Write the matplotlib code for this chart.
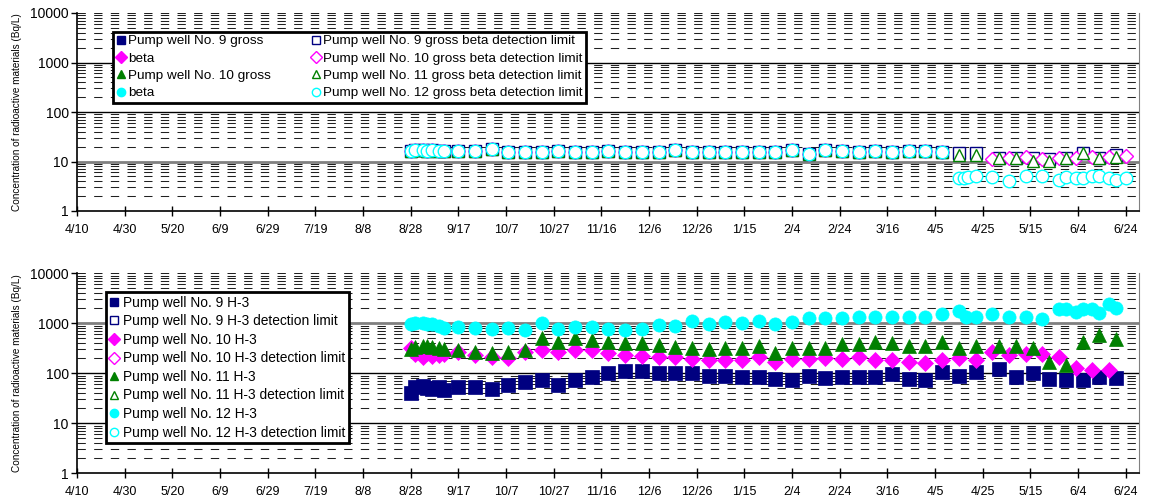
import matplotlib
matplotlib.use("Agg")
import matplotlib.pyplot as plt
import matplotlib.dates as mdates
import matplotlib.ticker as mticker
import pandas as pd

plt.rcParams['font.family'] = ['Liberation Sans', 'DejaVu Sans']

# sampling days, written as m/d (Aug-Dec = 2013, Jan-Jun = 2014)
early_dates = ["8/28", "8/30", "9/2", "9/4", "9/6", "9/9", "9/11"]
weekly_dates = ["9/17", "9/24", "10/1", "10/8", "10/15", "10/22", "10/29", "11/5", "11/12", "11/19",
                "11/26", "12/3", "12/10", "12/17", "12/24", "12/31", "1/7", "1/14", "1/21", "1/28",
                "2/4", "2/11", "2/18", "2/25", "3/4", "3/11", "3/18", "3/25", "4/1", "4/8"]

# --- upper chart: gross beta detection limits (Bq/L) ---
beta_dl_early = [16.5, 16.8, 17.0, 16.5, 16.8, 16.3, 16.5]
beta_dl_weekly = [16.3, 16.3, 17.9, 15.9, 15.9, 15.9, 16.5, 15.9, 15.3, 16.3,
                  15.9, 15.3, 15.3, 16.9, 15.3, 15.3, 15.3, 15.3, 15.3, 15.3,
                  16.9, 14.2, 16.9, 16.5, 15.3, 16.5, 15.3, 16.5, 16.5, 15.3]
no9_beta_dl_late_dates = ["4/15", "4/22", "5/2", "5/9", "5/16", "5/23", "5/30", "6/6", "6/13", "6/20"]
no9_beta_dl_late = [14.6, 14.6, 12.0, 11.8, 11.6, 11.4, 11.6, 14.8, 12.0, 13.5]
no10_beta_dl_late_dates = ["4/29", "5/6", "5/13", "5/20", "5/27", "6/3", "6/10", "6/17", "6/24"]
no10_beta_dl_late = [11.1, 11.6, 12.2, 11.1, 11.6, 11.6, 12.2, 12.5, 12.9]
no11_beta_dl_late_dates = ["4/15", "4/22", "5/2", "5/9", "5/16", "5/23", "5/30", "6/6", "6/13", "6/20"]
no11_beta_dl_late = [13.5, 13.5, 11.6, 11.6, 10.4, 10.4, 11.6, 14.6, 11.6, 12.5]
no12_beta_dl_late_dates = ["4/15", "4/17", "4/19", "4/22", "4/29", "5/6", "5/13", "5/20", "5/27",
                           "5/30", "6/3", "6/6", "6/10", "6/13", "6/17", "6/20", "6/24"]
no12_beta_dl_late = [4.6, 4.6, 4.8, 5.0, 4.8, 4.1, 5.0, 5.0, 4.2, 4.8, 4.6, 4.6, 5.0, 5.0, 4.6, 4.2, 4.6]

# --- lower chart: H-3 (Bq/L) ---
no9_h3_early = [41, 52, 55, 50, 48, 52, 47]
no9_h3_weekly = [52, 54, 48, 58, 68, 74, 58, 74, 86, 103,
                 111, 110, 103, 103, 100, 88, 87, 84, 86, 78,
                 74, 89, 79, 83, 86, 85, 95, 76, 74, 108]
no10_h3_early = [320, 240, 215, 250, 225, 235, 240]
no10_h3_weekly = [271, 232, 209, 200, 271, 293, 271, 293, 293, 259,
                  232, 222, 215, 209, 193, 182, 186, 186, 209, 171,
                  195, 192, 200, 195, 209, 186, 182, 171, 158, 185]
no11_h3_early = [300, 340, 350, 345, 330, 320, 310]
no11_h3_weekly = [293, 271, 251, 271, 293, 501, 430, 501, 464, 430,
                  398, 398, 370, 341, 316, 302, 316, 326, 352, 251,
                  316, 316, 316, 385, 385, 430, 410, 352, 352, 430]
no12_h3_early = [980, 1000, 1000, 990, 970, 900, 800]
no12_h3_weekly = [857, 794, 770, 820, 750, 1000, 780, 857, 857, 780,
                  750, 770, 940, 900, 1100, 960, 1040, 1000, 1100, 955,
                  1047, 1259, 1259, 1259, 1360, 1360, 1360, 1358, 1358, 1513]
fri_late_dates = ["4/15", "4/22", "5/2", "5/9", "5/16", "5/23", "5/30", "6/6", "6/13", "6/20"]
tue_late_dates = ["4/15", "4/22", "4/29", "5/6", "5/13", "5/20", "5/27", "6/3", "6/10", "6/17"]
no9_h3_late = [88, 108, 120, 86, 103, 76, 74, 74, 83, 80]
no10_h3_late = [200, 185, 271, 232, 243, 243, 215, 126, 116, 116]
no11_h3_late = [316, 352, 352, 352, 316, 171, 147, 430, 584, 480]
no12_h3_late_dates = ["4/15", "4/18", "4/22", "4/29", "5/6", "5/13", "5/20", "5/27", "5/30",
                      "6/3", "6/6", "6/10", "6/13", "6/17", "6/20"]
no12_h3_late = [1783, 1358, 1358, 1536, 1358, 1358, 1219, 1932, 1932, 1710, 1932, 1932, 1634, 2432, 1995]


def to_dates(md_list):
    out = []
    for s in md_list:
        m, d = (int(v) for v in s.split("/"))
        out.append(pd.Timestamp(2013 if m >= 7 else 2014, m, d))
    return out


colors = {"no9": "#000080", "no10": "#FF00FF", "no11": "#008000", "no12": "#00FFFF"}
markers = {"no9": "s", "no10": "D", "no11": "^", "no12": "o"}

fig = plt.figure(figsize=(11.5, 5.01), dpi=100)
ax1 = fig.add_axes([77 / 1150, 1 - 211 / 501, 1062 / 1150, 198 / 501])
ax2 = fig.add_axes([77 / 1150, 1 - 473.3 / 501, 1062 / 1150, 200 / 501])

start = pd.Timestamp(2013, 4, 10)
tick_days = pd.date_range(start, periods=23, freq="20D")


def style_axes(ax, gray_major):
    ax.set_yscale("log")
    ax.set_ylim(1, 10000)
    ax.set_xlim(mdates.date2num(start), mdates.date2num(start) + 445.6)
    # dashed minor lines
    for dec in [1, 10, 100, 1000]:
        for k in range(2, 10):
            ax.axhline(dec * k, color="#202020", lw=0.75, ls=(0, (8, 8)), zorder=0.5)
    ax.axhline(10000, color="#202020", lw=0.75, ls=(0, (8, 8)), zorder=0.5)
    for v in [10, 100, 1000]:
        if v == gray_major:
            ax.axhline(v, color="#808080", lw=2.0, zorder=0.6)
        else:
            ax.axhline(v, color="black", lw=1.0, zorder=0.6)
    ax.yaxis.set_major_locator(mticker.FixedLocator([1, 10, 100, 1000, 10000]))
    ax.yaxis.set_major_formatter(mticker.FuncFormatter(lambda v, p: f"{int(round(v))}"))
    ax.yaxis.set_minor_locator(mticker.NullLocator())
    ax.set_xticks(mdates.date2num(tick_days))
    ax.set_xticklabels([f"{d.month}/{d.day}" for d in tick_days])
    ax.tick_params(axis="x", direction="inout", length=7, width=1, labelsize=9, pad=6)
    ax.tick_params(axis="y", direction="out", length=4, width=1, labelsize=10, pad=2)
    ax.spines["top"].set_visible(False)
    ax.spines["right"].set_color("#808080")
    ax.spines["left"].set_linewidth(1.2)
    ax.spines["bottom"].set_linewidth(1.2)
    ax.set_ylabel("Concentration of radioactive materials (Bq/L)", fontsize=7.2, labelpad=6)


style_axes(ax1, gray_major=10)
style_axes(ax2, gray_major=1000)

# upper chart
d_base = to_dates(early_dates + weekly_dates)
dl_base = beta_dl_early + beta_dl_weekly
top_series = [
    ("no9", no9_beta_dl_late_dates, no9_beta_dl_late),
    ("no10", no10_beta_dl_late_dates, no10_beta_dl_late),
    ("no11", no11_beta_dl_late_dates, no11_beta_dl_late),
    ("no12", no12_beta_dl_late_dates, no12_beta_dl_late),
]
for key, ld, lv in top_series:
    ms = 9 if key == "no12" else 8.5
    if key == "no10":
        ms = 7.5
    ax1.plot(d_base + to_dates(ld), dl_base + lv, ls="none", marker=markers[key], ms=ms,
             mfc="white", mec=colors[key], mew=1.0, zorder=3)

h_left = []
h_right = []
for key in ["no9", "no10", "no11", "no12"]:
    h_left.append(ax1.plot([], [], ls="none", marker=markers[key], ms=6, color=colors[key])[0])
    h_right.append(ax1.plot([], [], ls="none", marker=markers[key], ms=6, mfc="white",
                            mec=colors[key], mew=1.0)[0])
labels_left = ["Pump well No. 9 gross", "beta", "Pump well No. 10 gross", "beta"]
labels_right = ["Pump well No. 9 gross beta detection limit", "Pump well No. 10 gross beta detection limit",
                "Pump well No. 11 gross beta detection limit", "Pump well No. 12 gross beta detection limit"]
leg1 = ax1.legend(h_left + h_right, labels_left + labels_right, ncol=2, loc="upper left",
                  bbox_to_anchor=(0.034, 0.906), borderaxespad=0, fontsize=9.7, handlelength=0.7,
                  handletextpad=0.15, columnspacing=3.0, labelspacing=0.36, borderpad=0.25,
                  frameon=True, fancybox=False, framealpha=1)
leg1.get_frame().set_edgecolor("black")
leg1.get_frame().set_linewidth(2)
leg1.set_zorder(5)

# lower chart
h3_series = [
    ("no9", no9_h3_early + no9_h3_weekly, fri_late_dates, no9_h3_late),
    ("no10", no10_h3_early + no10_h3_weekly, tue_late_dates, no10_h3_late),
    ("no11", no11_h3_early + no11_h3_weekly, fri_late_dates, no11_h3_late),
    ("no12", no12_h3_early + no12_h3_weekly, no12_h3_late_dates, no12_h3_late),
]
handles2 = []
for key, base_vals, ld, lv in h3_series:
    ms = 8 if key == "no10" else 9.5
    ax2.plot(d_base + to_dates(ld), base_vals + lv, ls="none", marker=markers[key], ms=ms,
             color=colors[key], mec=colors[key], mew=0.5, zorder=3)
    handles2.append(ax2.plot([], [], ls="none", marker=markers[key], ms=6, color=colors[key])[0])
    handles2.append(ax2.plot([], [], ls="none", marker=markers[key], ms=6, mfc="white",
                             mec=colors[key], mew=1.0)[0])
labels2 = []
for n in [9, 10, 11, 12]:
    labels2.append(f"Pump well No. {n} H-3")
    labels2.append(f"Pump well No. {n} H-3 detection limit")
leg2 = ax2.legend(handles2, labels2, loc="upper left", bbox_to_anchor=(0.0273, 0.905), borderaxespad=0,
                  fontsize=9.9, handlelength=0.7, handletextpad=0.3, labelspacing=0.33, borderpad=0.25,
                  frameon=True, fancybox=False, framealpha=1)
leg2.get_frame().set_edgecolor("black")
leg2.get_frame().set_linewidth(2)
leg2.set_zorder(5)

fig.savefig("out.png", dpi=100)
